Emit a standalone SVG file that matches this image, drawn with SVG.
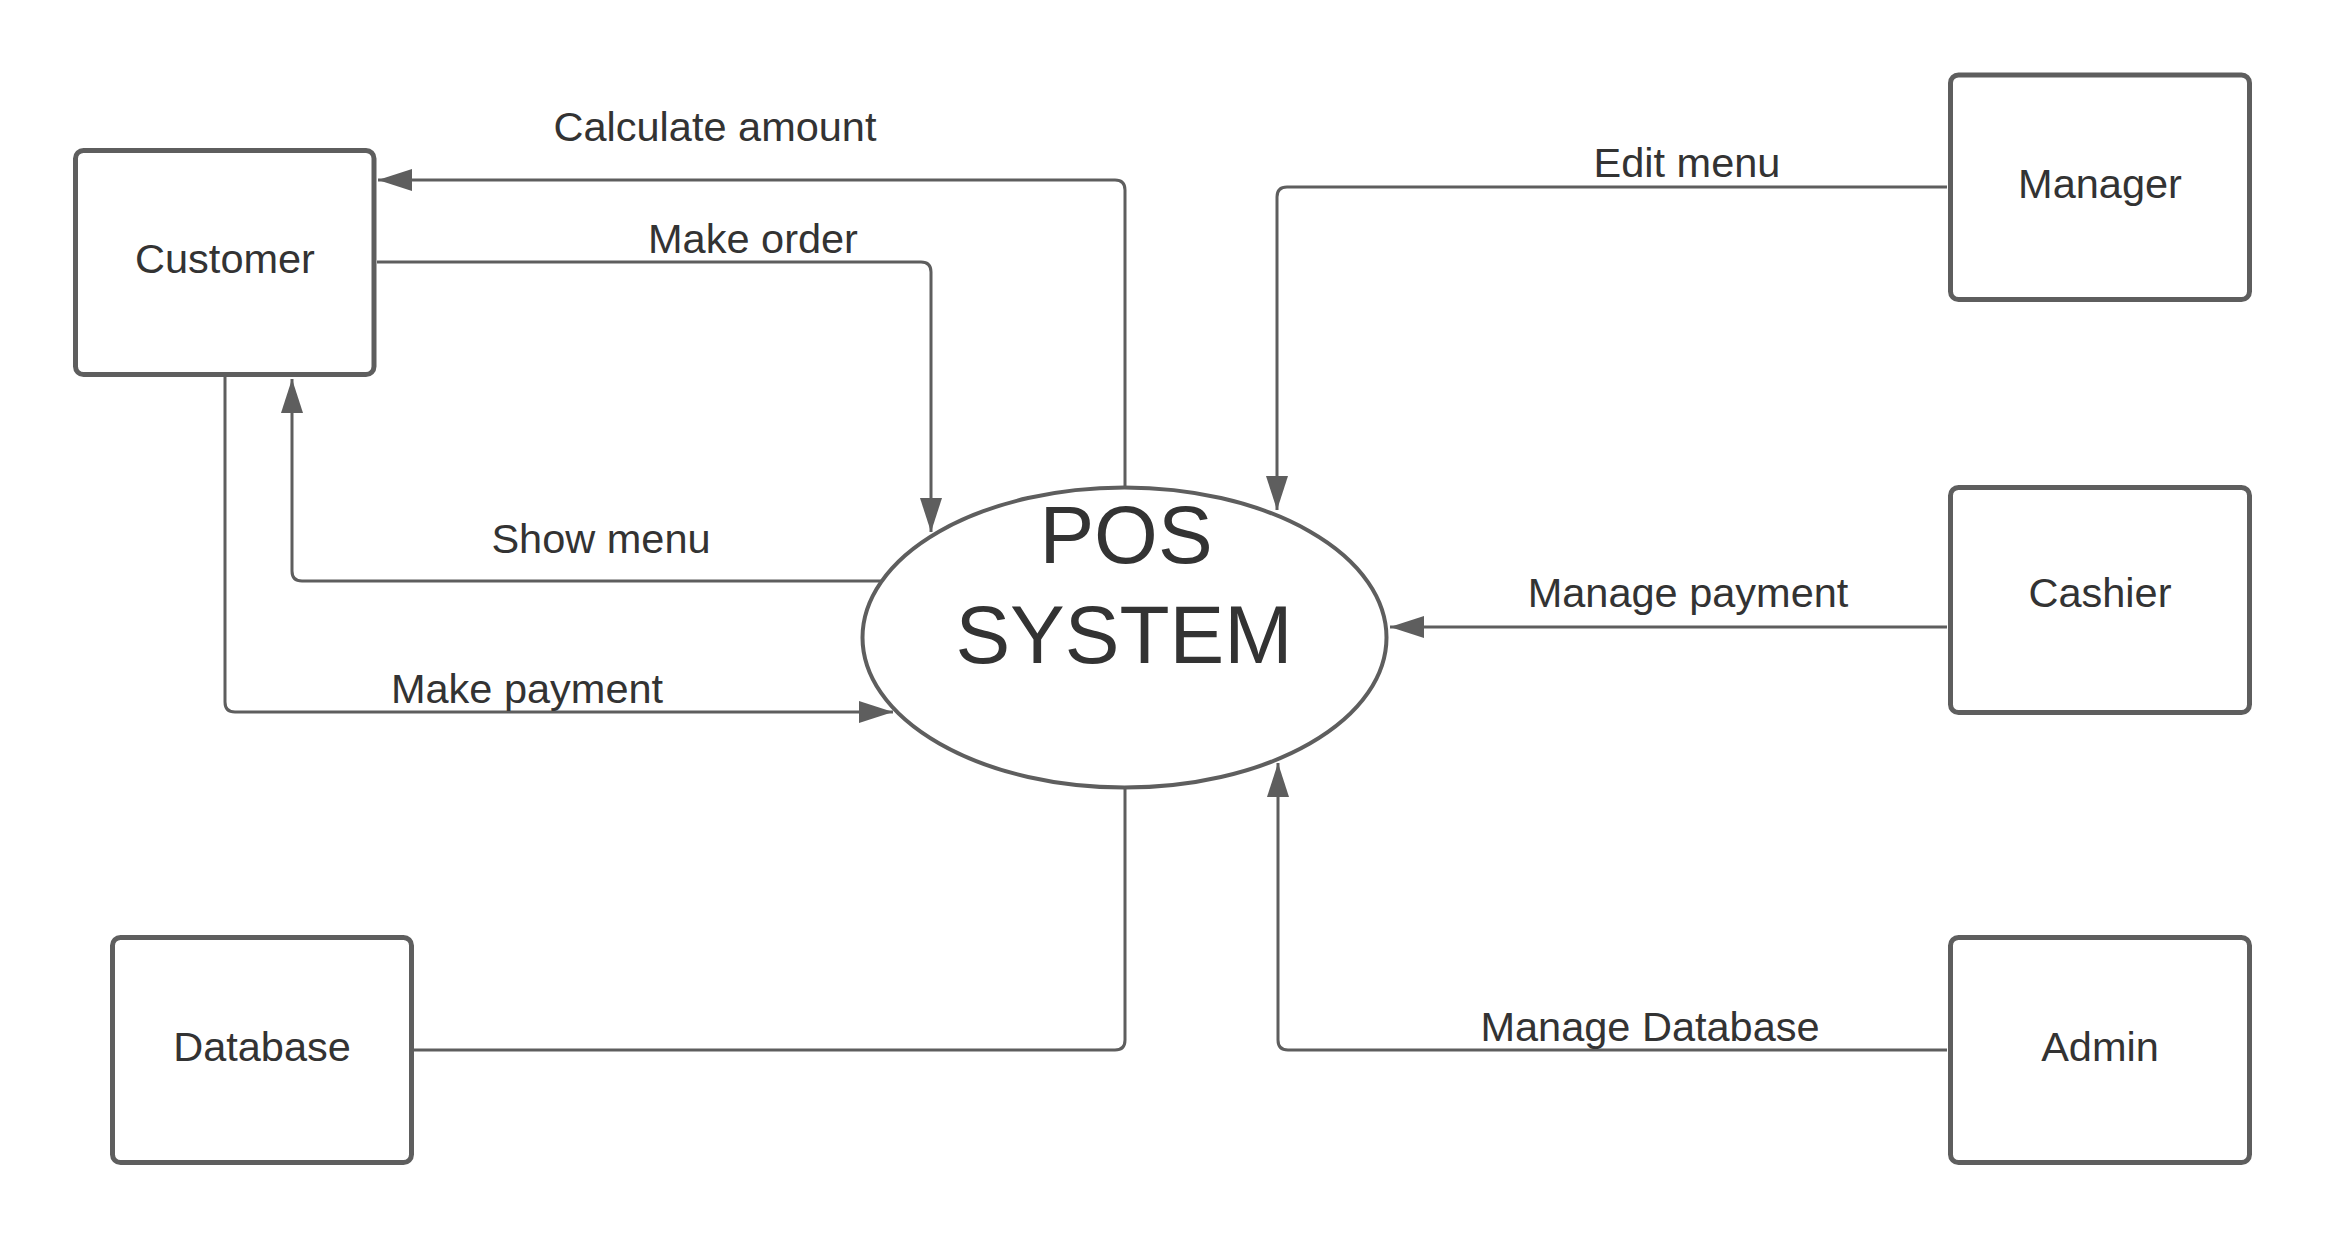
<svg xmlns="http://www.w3.org/2000/svg" width="2325" height="1238" viewBox="0 0 2325 1238">
<style>
.box{fill:#ffffff;stroke:#5e5e5e;stroke-width:5}
.ell{fill:#ffffff;stroke:#5e5e5e;stroke-width:4}
.conn{fill:none;stroke:#5e5e5e;stroke-width:3}
.lbl{font-family:"Liberation Sans",Arial,sans-serif;font-size:41.5px;fill:#333333;text-anchor:middle}
.big{font-family:"Liberation Sans",Arial,sans-serif;font-size:82px;fill:#333333;text-anchor:middle}
</style>
<defs>
<marker id="arr" markerUnits="userSpaceOnUse" viewBox="0 0 34 22" refX="34" refY="11" markerWidth="34" markerHeight="22" orient="auto">
<path d="M0,0 L34,11 L0,22 z" fill="#5e5e5e"/>
</marker>
</defs>
<rect width="2325" height="1238" fill="#ffffff"/>
<g id="connectors">
<path class="conn" d="M1125,487 V190 Q1125,180 1115,180 H378" marker-end="url(#arr)"/>
<path class="conn" d="M377,262 H921 Q931,262 931,272 V532" marker-end="url(#arr)"/>
<path class="conn" d="M882,581 H302 Q292,581 292,571 V379" marker-end="url(#arr)"/>
<path class="conn" d="M225,377 V702 Q225,712 235,712 H893" marker-end="url(#arr)"/>
<path class="conn" d="M1947,187 H1287 Q1277,187 1277,197 V510" marker-end="url(#arr)"/>
<path class="conn" d="M1947,627 H1390" marker-end="url(#arr)"/>
<path class="conn" d="M1947,1050 H1288 Q1278,1050 1278,1040 V763" marker-end="url(#arr)"/>
<path class="conn" d="M413,1050 H1115 Q1125,1050 1125,1040 V788"/>
<text class="lbl" x="715" y="141">Calculate amount</text>
<text class="lbl" x="753" y="253">Make order</text>
<text class="lbl" x="601" y="553">Show menu</text>
<text class="lbl" x="527" y="703">Make payment</text>
<text class="lbl" x="1687" y="177">Edit menu</text>
<text class="lbl" x="1688" y="607">Manage payment</text>
<text class="lbl" x="1650" y="1041">Manage Database</text>
</g>
<g id="pos-system">
<ellipse class="ell" cx="1124.5" cy="637.5" rx="262" ry="150"/>
<text class="big" x="1126" y="563">POS</text>
<text class="big" x="1124" y="663">SYSTEM</text>
</g>
<g id="customer">
<rect class="box" x="75.5" y="150.5" width="298.5" height="224" rx="8"/>
<text class="lbl" x="225" y="273">Customer</text>
</g>
<g id="manager">
<rect class="box" x="1950.5" y="75" width="299" height="224.5" rx="8"/>
<text class="lbl" x="2100" y="198">Manager</text>
</g>
<g id="cashier">
<rect class="box" x="1950.5" y="487.5" width="299" height="225" rx="8"/>
<text class="lbl" x="2100" y="607">Cashier</text>
</g>
<g id="admin">
<rect class="box" x="1950.5" y="937.5" width="299" height="225" rx="8"/>
<text class="lbl" x="2100" y="1061">Admin</text>
</g>
<g id="database">
<rect class="box" x="112.5" y="937.5" width="299" height="225" rx="8"/>
<text class="lbl" x="262" y="1061">Database</text>
</g>
</svg>
